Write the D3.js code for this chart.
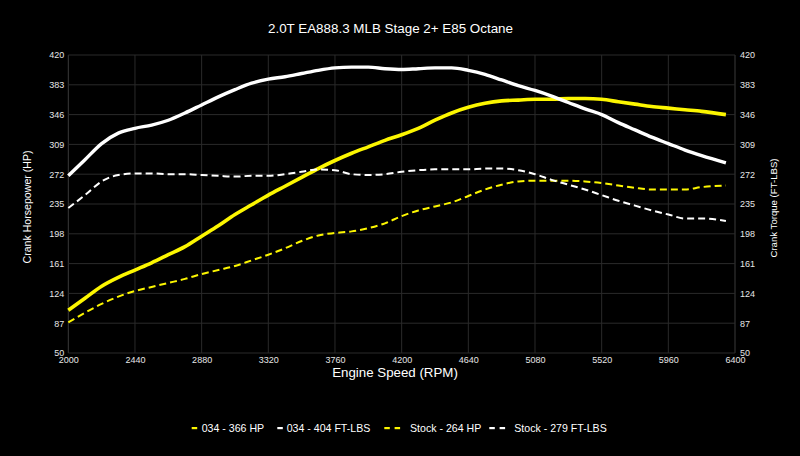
<!DOCTYPE html>
<html><head><meta charset="utf-8">
<script src="https://cdn.jsdelivr.net/npm/d3@7/dist/d3.min.js"></script>
<style>html,body{margin:0;padding:0;background:#000;}svg{display:block;font-family:"Liberation Sans",Arial,sans-serif;}</style>
</head><body>
<script>
const rpm = [2000,2110,2220,2330,2440,2550,2660,2770,2880,2990,3100,3210,3320,3430,3540,3650,3760,3870,3980,4090,4200,4310,4420,4530,4640,4750,4860,4970,5080,5190,5300,5410,5520,5630,5740,5850,5960,6070,6180,6340];
const hp034 = [103,118,133,144,153,162,172,182,195,208,222,234,246,257,268,279,289,298,306,314,321,329,339,348,355,360,363,364,365,365,366,366,365,362,359,356,354,352,350,346];
const tq034 = [270,290,310,323,329,333,339,348,358,368,377,385,390,393,397,401,404,405,405,403,402,403,404,404,401,396,389,382,376,369,361,353,346,336,327,318,310,302,295,286];
const hpStock = [88,100,111,120,127,132,137,142,148,153,158,165,172,180,189,196,199,201,205,211,220,227,232,237,245,253,259,263,264,264,264,263,261,258,255,253,253,253,256,258];
const tqStock = [230,246,263,271,273,273,272,272,271,270,269,270,270,272,275,278,277,272,271,272,275,277,278,278,278,279,279,277,272,265,259,253,246,239,233,227,222,217,217,214];
const xTicks = [2000,2440,2880,3320,3760,4200,4640,5080,5520,5960,6400];
const yTicks = [50,87,124,161,198,235,272,309,346,383,420];
const seriesNames = ["034 - 366 HP","034 - 404 FT-LBS","Stock - 264 HP","Stock - 279 FT-LBS"];
const titleText = "2.0T EA888.3 MLB Stage 2+ E85 Octane";

const W=800,H=456;
const svg=d3.select("body").append("svg").attr("width",W).attr("height",H);
svg.append("rect").attr("width",W).attr("height",H).attr("fill","#000");
const x=d3.scaleLinear().domain([2000,6400]).range([68.3,735]);
const yL=d3.scaleLinear().domain([50,420]).range([353,55]);
const yR=d3.scaleLinear().domain([50,420]).range([353,55]);

const grid=svg.append("g");
grid.selectAll("line.v").data(xTicks).join("line").attr("class","v")
  .attr("x1",d=>x(d)).attr("x2",d=>x(d)).attr("y1",yL(420)).attr("y2",yL(50))
  .attr("stroke",d=>(d===2000||d===6400)?"#3a3a3a":"#2a2a2a").attr("stroke-width",1);
grid.selectAll("line.h").data(yTicks).join("line").attr("class","h")
  .attr("x1",x(2000)).attr("x2",x(6400)).attr("y1",d=>yL(d)).attr("y2",d=>yL(d))
  .attr("stroke","#2a2a2a").attr("stroke-width",1);

// axes (labels only)
const ax=svg.append("g").attr("transform",`translate(0,${yL(50)})`)
  .call(d3.axisBottom(x).tickValues(xTicks).tickFormat(d3.format("d")).tickSize(0).tickPadding(4));
const ayl=svg.append("g").attr("transform",`translate(${x(2000)},0)`)
  .call(d3.axisLeft(yL).tickValues(yTicks).tickSize(0).tickPadding(4));
const ayr=svg.append("g").attr("transform",`translate(${x(6400)},0)`)
  .call(d3.axisRight(yR).tickValues(yTicks).tickSize(0).tickPadding(5));
[ax,ayl,ayr].forEach(g=>{g.select(".domain").remove();g.selectAll("text").attr("fill","#e6e6e6").attr("font-size",9).attr("font-family","Liberation Sans, Arial, sans-serif");});

svg.append("text").attr("x",390.5).attr("y",33).attr("text-anchor","middle").attr("fill","#fff")
  .attr("font-size",13.4).text(titleText);
svg.append("text").attr("x",395).attr("y",377).attr("text-anchor","middle").attr("fill","#fff")
  .attr("font-size",13.3).text("Engine Speed (RPM)");
svg.append("text").attr("transform","translate(31,207) rotate(-90)").attr("text-anchor","middle").attr("fill","#fff")
  .attr("font-size",10.6).text("Crank Horsepower (HP)");
svg.append("text").attr("transform","translate(776.5,208) rotate(-90)").attr("text-anchor","middle").attr("fill","#fff")
  .attr("font-size",9.6).text("Crank Torque (FT-LBS)");

const yellow="#fcf600", white="#ffffff";
const series=[
  {vals:hp034,scale:yL,color:yellow,dash:null,w:3.6},
  {vals:tq034,scale:yR,color:white,dash:null,w:3.4},
  {vals:hpStock,scale:yL,color:yellow,dash:"7,4",w:2},
  {vals:tqStock,scale:yR,color:white,dash:"7,4",w:2}
];
const plot=svg.append("g");
series.forEach(s=>{
  const line=d3.line().x((d,i)=>x(rpm[i])).y(d=>s.scale(d)).curve(d3.curveMonotoneX);
  plot.append("path").attr("d",line(s.vals)).attr("fill","none").attr("stroke",s.color)
    .attr("stroke-width",s.w).attr("stroke-dasharray",s.dash).attr("stroke-linejoin","round");
});

// legend
const legend=[
  {name:seriesNames[0],color:yellow,dashed:false,sx:191.7,tx:201.7},
  {name:seriesNames[1],color:white,dashed:false,sx:277.3,tx:286.7},
  {name:seriesNames[2],color:yellow,dashed:true,sx:384.3,tx:410},
  {name:seriesNames[3],color:white,dashed:true,sx:489.3,tx:514.3}
];
const lg=svg.append("g");
legend.forEach(l=>{
  const segs=l.dashed?[0,10.3]:[0];
  segs.forEach(o=>lg.append("rect").attr("x",l.sx+o).attr("y",427).attr("width",5.5).attr("height",2.2).attr("fill",l.color));
  lg.append("text").attr("x",l.tx).attr("y",432).attr("fill","#fff").attr("font-size",10.6).text(l.name);
});
</script>
</body></html>
